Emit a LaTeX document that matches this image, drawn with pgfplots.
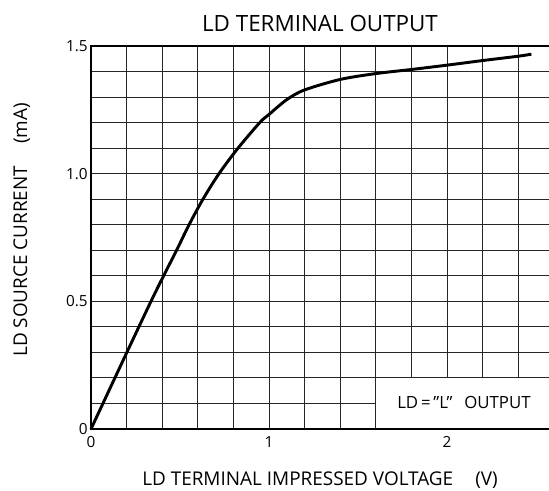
\documentclass[border=0pt]{standalone}
\usepackage{fontspec}
\setmainfont{Open Sans}
\usepackage{pgfplots}
\pgfplotsset{compat=1.18}
\begin{document}
\begin{tikzpicture}
\path[use as bounding box] (-68.25pt,-45.75pt) rectangle (343.5pt,321.75pt);
\begin{axis}[
  at={(0,0)}, anchor=south west,
  scale only axis,
  width=343.5pt, height=287.25pt,
  xmin=0, xmax=2.573, ymin=0, ymax=1.5,
  clip=false,
  axis line style={draw=none},
  xtick={0,1,2}, xticklabels={0,1,2},
  ytick={0,0.5,1,1.5}, yticklabels={0,0.5,1.0,1.5},
  minor xtick={0.2,0.4,0.6,0.8,1.2,1.4,1.6,1.8,2.2,2.4},
  minor ytick={0.1,0.2,0.3,0.4,0.6,0.7,0.8,0.9,1.1,1.2,1.3,1.4},
  grid=both,
  major grid style={black!85, line width=0.7pt},
  minor grid style={black!85, line width=0.7pt},
  major tick length=0pt, minor tick length=0pt,
  tick style={draw=none},
  /pgf/number format/assume math mode=true,
  tick label style={font=\fontsize{11.5}{13}\selectfont},
  xticklabel style={yshift=-2pt},
  yticklabel style={xshift=1pt},
]
\fill[white] (axis cs:1.6,0) rectangle (axis cs:2.573,0.2);
\draw[black!85, line width=0.7pt] (axis cs:1.6,0) -- (axis cs:1.6,0.2) -- (axis cs:2.573,0.2);
\node[font=\fontsize{12.6}{14}\selectfont] at (axis cs:2.095,0.102) {LD\,=\,”L”\hspace{0.7em}OUTPUT};
\addplot[black, line width=2.2pt, smooth, tension=0.5] coordinates {
(0,0) (0.2,0.298) (0.337,0.5) (0.408,0.6) (0.483,0.703) (0.551,0.8) (0.629,0.9) (0.719,1.0) (0.826,1.1) (0.948,1.2) (1.0,1.232) (1.1,1.29) (1.2,1.328) (1.4,1.369) (1.6,1.392) (1.8,1.408) (2.0,1.425) (2.2,1.443) (2.4,1.46) (2.474,1.468)
};
\draw[black, line width=1.5pt] (rel axis cs:1,1) -- (rel axis cs:0,1) -- (rel axis cs:0,0) -- (rel axis cs:1,0);
\node[font=\fontsize{16.8}{19}\selectfont] at ([yshift=17.25pt]rel axis cs:0.5,1) {LD TERMINAL OUTPUT};
\node[font=\fontsize{14.2}{16}\selectfont] at ([yshift=-38.25pt]rel axis cs:0.5,0) {LD TERMINAL IMPRESSED VOLTAGE\hspace{16.5pt}(V)};
\node[font=\fontsize{14.2}{16}\selectfont, rotate=90] at ([xshift=-52pt]axis cs:0,0.78) {LD SOURCE CURRENT\hspace{16.5pt}(mA)};
\end{axis}
\end{tikzpicture}
\end{document}
